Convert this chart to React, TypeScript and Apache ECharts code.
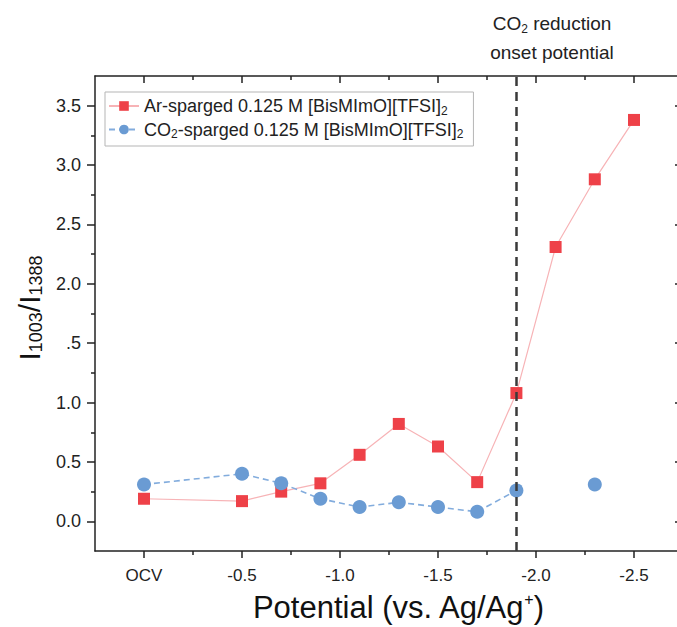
import React, { useEffect, useRef } from "react";
import * as echarts from "echarts";

// ---- data ----
const xValues = [0, 0.5, 0.7, 0.9, 1.1, 1.3, 1.5, 1.7, 1.9, 2.1, 2.3, 2.5];
const arValues = [0.19, 0.17, 0.25, 0.32, 0.56, 0.82, 0.63, 0.33, 1.08, 2.31, 2.88, 3.38];
const co2Values: (number | null)[] = [0.31, 0.4, 0.32, 0.19, 0.12, 0.16, 0.12, 0.08, 0.26, null, 0.31, null];

const xTickValues = [0, 0.5, 1, 1.5, 2, 2.5];
const xTickLabels = ["OCV", "-0.5", "-1.0", "-1.5", "-2.0", "-2.5"];
const xMinorValues = [0.25, 0.75, 1.25, 1.75, 2.25];
const yTickValues = [0, 0.5, 1, 1.5, 2, 2.5, 3, 3.5];
const yTickLabels = ["0.0", "0.5", "1.0", ".5", "2.0", "2.5", "3.0", "3.5"];
const yMinorValues = [0.25, 0.75, 1.25, 1.75, 2.25, 2.75, 3.25];
const onsetPotential = 1.9;

const seriesNames = ["Ar", "CO2"];
const legendLabels: Record<string, string> = {
  Ar: "Ar-sparged 0.125 M [BisMImO][TFSI]{sub|2}",
  CO2: "CO{sub|2}-sparged 0.125 M [BisMImO][TFSI]{sub|2}",
};

const FONT = "'Liberation Sans', Arial, Helvetica, sans-serif";
const AXIS_COLOR = "#222";

export default function App() {
  const ref = useRef<HTMLDivElement>(null);
  useEffect(() => {
    if (!ref.current) return;
    const chart = echarts.init(ref.current, undefined, { renderer: "svg" });
    const xMin = -0.25, xMax = 2.75, yMin = -0.25, yMax = 3.75;
    const lineStyle = { color: AXIS_COLOR, width: 1.5 };
    const xAxisBase = { type: "value", min: xMin, max: xMax, splitLine: { show: false } };
    const yAxisBase = { type: "value", min: yMin, max: yMax, splitLine: { show: false } };

    const option: any = {
      animation: false,
      backgroundColor: "#fff",
      grid: { left: 95, top: 76, right: 0, bottom: 76, containLabel: false },
      xAxis: [
        {
          ...xAxisBase,
          position: "bottom",
          axisLine: { show: true, onZero: false, lineStyle },
          axisTick: { show: true, customValues: xTickValues, length: 7, lineStyle },
          axisLabel: {
            show: true,
            customValues: xTickValues,
            margin: 16,
            fontSize: 17,
            fontFamily: FONT,
            color: AXIS_COLOR,
            formatter: (v: number) => {
              const i = xTickValues.findIndex((t) => Math.abs(t - v) < 1e-6);
              return i >= 0 ? xTickLabels[i] : "";
            },
          },
        },
        {
          ...xAxisBase,
          position: "bottom",
          axisLine: { show: false, onZero: false },
          axisTick: { show: true, customValues: xMinorValues, length: 4, lineStyle },
          axisLabel: { show: false },
        },
        {
          ...xAxisBase,
          position: "top",
          axisLine: { show: true, onZero: false, lineStyle },
          axisTick: { show: true, inside: true, customValues: xTickValues, length: 7, lineStyle },
          axisLabel: { show: false },
        },
        {
          ...xAxisBase,
          position: "top",
          axisLine: { show: false, onZero: false },
          axisTick: { show: true, inside: true, customValues: xMinorValues, length: 4, lineStyle },
          axisLabel: { show: false },
        },
      ],
      yAxis: [
        {
          ...yAxisBase,
          position: "left",
          axisLine: { show: true, onZero: false, lineStyle },
          axisTick: { show: true, customValues: yTickValues, length: 8, lineStyle },
          axisLabel: {
            show: true,
            customValues: yTickValues,
            margin: 14,
            fontSize: 18,
            fontFamily: FONT,
            color: AXIS_COLOR,
            formatter: (v: number) => {
              const i = yTickValues.findIndex((t) => Math.abs(t - v) < 1e-6);
              return i >= 0 ? yTickLabels[i] : "";
            },
          },
        },
        {
          ...yAxisBase,
          position: "left",
          axisLine: { show: false, onZero: false },
          axisTick: { show: true, customValues: yMinorValues, length: 4, lineStyle },
          axisLabel: { show: false },
        },
        {
          ...yAxisBase,
          position: "right",
          axisLine: { show: true, onZero: false, lineStyle },
          axisTick: { show: true, inside: true, customValues: yTickValues, length: 8, lineStyle },
          axisLabel: { show: false },
        },
        {
          ...yAxisBase,
          position: "right",
          axisLine: { show: false, onZero: false },
          axisTick: { show: true, inside: true, customValues: yMinorValues, length: 4, lineStyle },
          axisLabel: { show: false },
        },
      ],
      legend: {
        orient: "vertical",
        left: 105,
        top: 92,
        data: seriesNames,
        itemWidth: 30,
        itemHeight: 12,
        itemGap: 4,
        padding: [5, 10, 6, 3],
        borderColor: "#b5b5b5",
        borderWidth: 1,
        backgroundColor: "#fff",
        formatter: (name: string) => legendLabels[name] ?? name,
        textStyle: {
          fontSize: 18,
          fontFamily: FONT,
          color: AXIS_COLOR,
          rich: {
            sub: { fontSize: 12, fontFamily: FONT, color: AXIS_COLOR, verticalAlign: "bottom", padding: [9, 0, 0, 0] },
          },
        },
      },
      series: [
        {
          name: "Ar",
          type: "line",
          xAxisIndex: 0,
          yAxisIndex: 0,
          data: xValues.map((x, i) => [x, arValues[i]]),
          symbol: "rect",
          symbolSize: 12,
          itemStyle: { color: "#EE4148" },
          lineStyle: { color: "#F7B3B6", width: 1.2 },
          z: 3,
          markLine: {
            silent: true,
            symbol: "none",
            label: { show: false },
            lineStyle: { color: "#3a3a3a", type: [9, 6], width: 2.5 },
            data: [{ xAxis: onsetPotential }],
          },
        },
        {
          name: "CO2",
          type: "line",
          xAxisIndex: 0,
          yAxisIndex: 0,
          connectNulls: false,
          data: xValues
            .map((x, i) => [x, co2Values[i] === null ? "-" : co2Values[i]])
            .filter((_, i) => i < xValues.length - 1),
          symbol: "circle",
          symbolSize: 14,
          itemStyle: { color: "#6A9BD3" },
          lineStyle: { color: "#82ACDD", width: 1.6, type: [6, 4] },
          z: 4,
        },
      ],
      graphic: [
        {
          type: "text",
          x: 552,
          y: 23,
          style: {
            text: "CO{s|2} reduction",
            fontSize: 19,
            fontFamily: FONT,
            fill: AXIS_COLOR,
            align: "center",
            verticalAlign: "middle",
            rich: { s: { fontSize: 12, fontFamily: FONT, verticalAlign: "bottom", padding: [12, 0, 0, 0] } },
          },
        },
        {
          type: "text",
          x: 552,
          y: 52,
          style: {
            text: "onset potential",
            fontSize: 19,
            fontFamily: FONT,
            fill: AXIS_COLOR,
            align: "center",
            verticalAlign: "middle",
          },
        },
        {
          type: "text",
          x: 398,
          y: 607,
          style: {
            text: "Potential (vs. Ag/Ag{sup|+})",
            fontSize: 31,
            fontFamily: FONT,
            fill: "#111",
            align: "center",
            verticalAlign: "middle",
            rich: { sup: { fontSize: 16, fontFamily: FONT, verticalAlign: "top", padding: [0, 0, 12, 0] } },
          },
        },
        {
          type: "text",
          x: 29,
          y: 308,
          rotation: Math.PI / 2,
          style: {
            text: "I{s|1003}/I{s|1388}",
            fontSize: 30,
            fontFamily: FONT,
            fill: "#111",
            align: "center",
            verticalAlign: "middle",
            rich: { s: { fontSize: 18, fontFamily: FONT, verticalAlign: "bottom", padding: [14, 0, 0, 0] } },
          },
        },
      ],
    };
    chart.setOption(option);
    return () => chart.dispose();
  }, []);
  return (
    <div
      ref={ref}
      style={{ position: "fixed", left: 0, top: 0, width: 683, height: 627, background: "#fff" }}
    />
  );
}
